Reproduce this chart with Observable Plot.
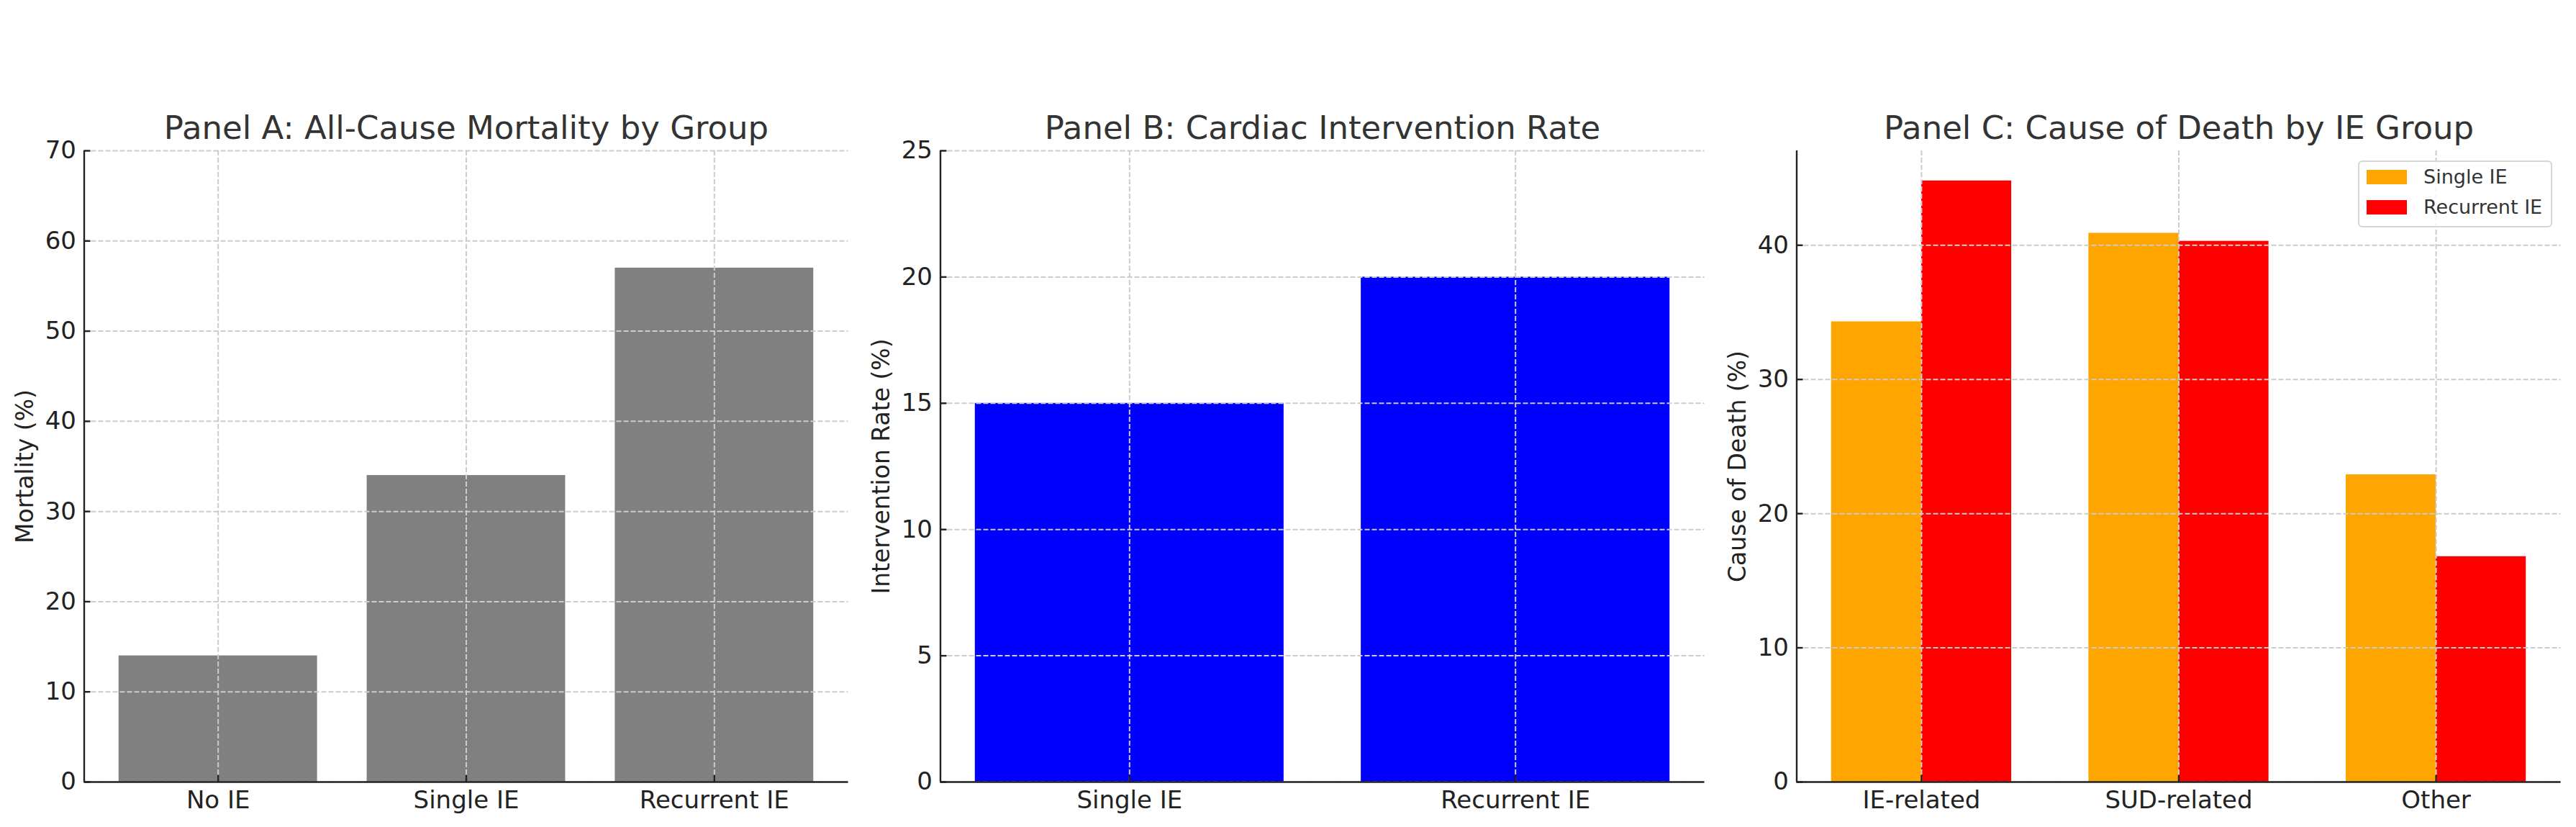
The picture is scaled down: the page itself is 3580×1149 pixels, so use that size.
<!DOCTYPE html>
<html>
<head>
<meta charset="utf-8">
<script src="https://cdn.jsdelivr.net/npm/d3@7"></script>
<script src="https://cdn.jsdelivr.net/npm/@observablehq/plot@0.6"></script>
<style>
html, body { margin: 0; padding: 0; background: #fff; }
#root { position: relative; width: 3580px; height: 1149px; overflow: hidden; font-family: "DejaVu Sans", sans-serif; }
.panel { position: absolute; top: 0; }
.legend { position: absolute; left: 3277px; top: 223px; width: 266px; height: 89px; border: 2px solid #d6d6d6; border-radius: 6px; background: rgba(255,255,255,0.8); }
.legend .sw { position: absolute; left: 10px; width: 56px; height: 20px; }
.legend .lb { position: absolute; left: 89px; font-size: 27px; color: #333; line-height: 30px; white-space: nowrap; }
</style>
</head>
<body>
<div id="root"></div>
<script>
// ---- data ----
const groupsA = ["No IE", "Single IE", "Recurrent IE"];
const mortality = [14, 34, 57];
const ticksA = [0, 10, 20, 30, 40, 50, 60, 70];

const groupsB = ["Single IE", "Recurrent IE"];
const intervention = [15, 20];
const ticksB = [0, 5, 10, 15, 20, 25];

const causes = ["IE-related", "SUD-related", "Other"];
const singleIE = [34.3, 40.9, 22.9];
const recurrentIE = [44.8, 40.3, 16.8];
const series = ["Single IE", "Recurrent IE"];
const seriesColors = ["#ffa500", "#ff0000"];
const ticksC = [0, 10, 20, 30, 40];

const titles = ["Panel A: All-Cause Mortality by Group", "Panel B: Cardiac Intervention Rate", "Panel C: Cause of Death by IE Group"];
const yLabels = ["Mortality (%)", "Intervention Rate (%)", "Cause of Death (%)"];

// ---- layout / styling ----
const W = 1190, H = 1149, ML = 116.5, MR = 11.5, MT = 209, MB = 63;
const frameW = W - ML - MR, frameH = H - MT - MB;
const TICK = 9;
const ink = "#222";
const gridStyle = { stroke: "#cccccc", strokeWidth: 2, strokeDasharray: "7,3" };
const spine = { stroke: ink, strokeWidth: 2.4 };

function panelMarks({ title, ylabel, yTicks, xTicks, xNames, xmin }) {
  return [
    Plot.gridY(yTicks, { ...gridStyle, strokeOpacity: 1 }),
    Plot.gridX(xTicks, { ...gridStyle, strokeOpacity: 1 }),
    // inward tick marks
    Plot.ruleY(yTicks, { y: d => d, insetRight: frameW - TICK, ...spine }),
    Plot.ruleX(xTicks, { x: d => d, insetTop: frameH - TICK, ...spine }),
    // spines (left and bottom only)
    Plot.ruleY([0], { ...spine }),
    Plot.ruleX([xmin], { ...spine }),
    // tick labels
    Plot.axisY(yTicks, { tickSize: 0, tickPadding: 11, fontSize: 34, label: null, fill: ink }),
    Plot.axisX(xTicks, { tickSize: 0, tickPadding: 12, fontSize: 34, label: null, fill: ink, tickFormat: i => xNames[i] }),
    // title + y label
    Plot.text([title], { text: d => d, frameAnchor: "top", dy: -31, fontSize: 45, fill: "#333", textAnchor: "middle", lineAnchor: "middle" }),
    Plot.text([ylabel], { text: d => d, frameAnchor: "left", dx: -82, rotate: -90, fontSize: 33, fill: ink, textAnchor: "middle", lineAnchor: "middle" })
  ];
}

const common = {
  width: W, height: H,
  marginTop: MT, marginBottom: MB, marginLeft: ML, marginRight: MR,
  style: { fontFamily: "DejaVu Sans", fontSize: "34px", color: ink, background: "transparent", overflow: "visible" }
};

// ---- Panel A ----
const halfA = 0.4;
const dataA = groupsA.map((g, i) => ({ group: g, idx: i, value: mortality[i] }));
const xminA = -0.54;
const plotA = Plot.plot({
  ...common,
  x: { type: "linear", domain: [xminA, 2.54] },
  y: { domain: [0, 70] },
  marks: [
    Plot.rect(dataA, { x1: d => d.idx - halfA, x2: d => d.idx + halfA, y1: 0, y2: "value", fill: "#808080" }),
    ...panelMarks({ title: titles[0], ylabel: yLabels[0], yTicks: ticksA, xTicks: groupsA.map((_, i) => i), xNames: groupsA, xmin: xminA })
  ]
});

// ---- Panel B ----
const dataB = groupsB.map((g, i) => ({ group: g, idx: i, value: intervention[i] }));
const xminB = -0.49;
const plotB = Plot.plot({
  ...common,
  x: { type: "linear", domain: [xminB, 1.49] },
  y: { domain: [0, 25] },
  marks: [
    Plot.rect(dataB, { x1: d => d.idx - halfA, x2: d => d.idx + halfA, y1: 0, y2: "value", fill: "#0000ff" }),
    ...panelMarks({ title: titles[1], ylabel: yLabels[1], yTicks: ticksB, xTicks: groupsB.map((_, i) => i), xNames: groupsB, xmin: xminB })
  ]
});

// ---- Panel C ----
const barW = 0.35;
const dataC = [];
causes.forEach((c, i) => {
  dataC.push({ cause: c, idx: i, group: series[0], value: singleIE[i] });
  dataC.push({ cause: c, idx: i, group: series[1], value: recurrentIE[i] });
});
const xminC = -0.485;
const plotC = Plot.plot({
  ...common,
  x: { type: "linear", domain: [xminC, 2.485] },
  y: { domain: [0, 47.04] },
  color: { domain: series, range: seriesColors },
  marks: [
    Plot.rect(dataC, {
      x1: d => d.idx + (d.group === series[0] ? -barW : 0),
      x2: d => d.idx + (d.group === series[0] ? 0 : barW),
      y1: 0, y2: "value", fill: "group"
    }),
    ...panelMarks({ title: titles[2], ylabel: yLabels[2], yTicks: ticksC, xTicks: causes.map((_, i) => i), xNames: causes, xmin: xminC })
  ]
});

const root = document.getElementById("root");
[plotA, plotB, plotC].forEach((p, k) => {
  p.classList.add("panel");
  p.style.left = (k * W) + "px";
  root.appendChild(p);
});

// ---- legend for panel C ----
const legend = document.createElement("div");
legend.className = "legend";
series.forEach((s, i) => {
  const sw = document.createElement("div");
  sw.className = "sw";
  sw.style.top = (11 + i * 42) + "px";
  sw.style.background = seriesColors[i];
  const lb = document.createElement("div");
  lb.className = "lb";
  lb.style.top = (6 + i * 42) + "px";
  lb.textContent = s;
  legend.appendChild(sw);
  legend.appendChild(lb);
});
root.appendChild(legend);
</script>
</body>
</html>
